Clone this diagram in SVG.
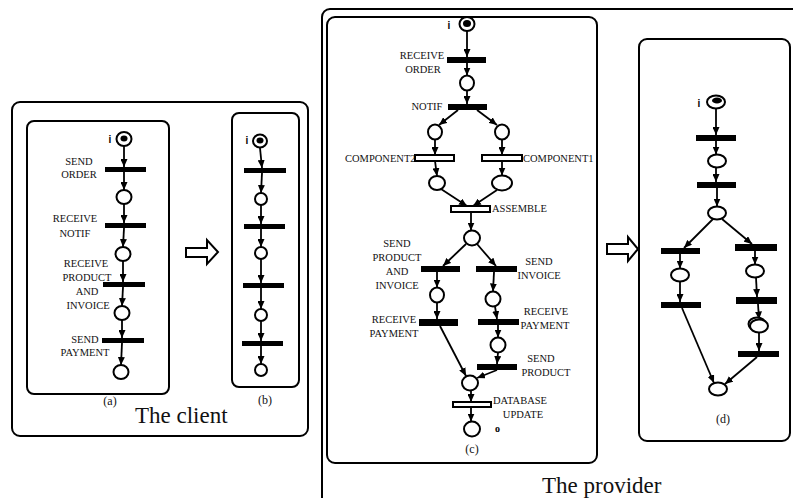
<svg xmlns="http://www.w3.org/2000/svg" width="793" height="498" viewBox="0 0 793 498">
<defs>
<marker id="ah" viewBox="0 0 8 7" refX="8" refY="3.5" markerWidth="8" markerHeight="7" markerUnits="userSpaceOnUse" orient="auto"><path d="M0,0 L8,3.5 L0,7 z" fill="#000"/></marker>
</defs>
<style>
.box{fill:none;stroke:#000;stroke-width:2}
.pl{fill:#fff;stroke:#000;stroke-width:2}
.tk{fill:#000}
.tr{fill:#000}
.th{fill:#fff;stroke:#000;stroke-width:2}
.e{fill:none;stroke:#000;stroke-width:1.8;marker-end:url(#ah)}
.big{fill:#fff;stroke:#000;stroke-width:2}
text{font-family:"Liberation Serif","Times New Roman",serif;fill:#111}
.lb{font-size:10.5px;text-anchor:middle}
.ls{font-size:10.5px}
.cap{font-size:12px;text-anchor:middle}
.ttl{font-size:23px}
.ii{font-family:"Liberation Sans",Arial,sans-serif;font-size:10px;font-weight:bold;text-anchor:middle;fill:#000}
.oo{font-size:10px;font-weight:bold;fill:#000}
</style>

<g id="frames">
<rect class="box" x="12" y="102" width="296" height="334" rx="8"/>
<rect class="box" x="27" y="121" width="142" height="273" rx="7"/>
<rect class="box" x="232" y="113" width="67" height="274" rx="7"/>
<rect class="box" x="322" y="9" width="500" height="520" rx="8"/>
<rect class="box" x="327" y="17" width="270" height="446" rx="8"/>
<rect class="box" x="639" y="39" width="151" height="402" rx="8"/>
<path class="big" d="M186,248 L207,248 L207,240 L218,252 L207,264 L207,257 L186,257 Z"/>
<path class="big" d="M607,244 L628,244 L628,237 L638,249 L628,261 L628,254 L607,254 Z"/>
<text class="ttl" x="135" y="423">The client</text>
<text class="ttl" x="542" y="493">The provider</text>
<text class="cap" x="110" y="405">(a)</text>
<text class="cap" x="265" y="404">(b)</text>
<text class="cap" x="472" y="453">(c)</text>
<text class="cap" x="723" y="423">(d)</text>
</g>

<g id="connectors">
<path class="e" d="M124,146 L124,167"/>
<path class="e" d="M124,172 L124,190"/>
<path class="e" d="M124,204 L124,223"/>
<path class="e" d="M124,228 L123,247"/>
<path class="e" d="M123,261 L123,282"/>
<path class="e" d="M123,287 L122,306"/>
<path class="e" d="M122,320 L122,338"/>
<path class="e" d="M122,343 L121,365"/>
<path class="e" d="M260,148 L262,168"/>
<path class="e" d="M262,173 L261,193"/>
<path class="e" d="M261,205 L261,224"/>
<path class="e" d="M261,229 L261,247"/>
<path class="e" d="M261,259 L261,283"/>
<path class="e" d="M261,288 L261,309"/>
<path class="e" d="M261,321 L261,341"/>
<path class="e" d="M261,346 L261,364"/>
<path class="e" d="M467,31 L467,57"/>
<path class="e" d="M467,63 L467,75.5"/>
<path class="e" d="M467,90.5 L467,104"/>
<path class="e" d="M458,110 L439,125"/>
<path class="e" d="M477,110 L497,125"/>
<path class="e" d="M435,139.5 L435,155"/>
<path class="e" d="M502,139.5 L502,155"/>
<path class="e" d="M435,161 L437,176"/>
<path class="e" d="M502,161 L502,175.5"/>
<path class="e" d="M441,189 L467,206"/>
<path class="e" d="M497,190 L473,206"/>
<path class="e" d="M471,212 L471,230.5"/>
<path class="e" d="M466,244 L443,266"/>
<path class="e" d="M477,244 L496,266"/>
<path class="e" d="M437,272 L437,287.5"/>
<path class="e" d="M494,272 L493,291.5"/>
<path class="e" d="M437,302.5 L437,319"/>
<path class="e" d="M495,306.5 L497,319"/>
<path class="e" d="M498,325 L498,337.5"/>
<path class="e" d="M498,352.5 L497,364"/>
<path class="e" d="M440,326 L466,376"/>
<path class="e" d="M497,370 L477,378"/>
<path class="e" d="M471,390.5 L471,402"/>
<path class="e" d="M471,407 L471,421.5"/>
<path class="e" d="M716,108.5 L716,135"/>
<path class="e" d="M716,141 L716,154.5"/>
<path class="e" d="M716,167.5 L716,182"/>
<path class="e" d="M717,188 L717,206.5"/>
<path class="e" d="M713,219 L684,248"/>
<path class="e" d="M722,219 L752,244"/>
<path class="e" d="M680,254 L680,268.5"/>
<path class="e" d="M755,251 L755,264.5"/>
<path class="e" d="M680,281.5 L680,302"/>
<path class="e" d="M756,277.5 L757,297"/>
<path class="e" d="M758,304 L759,319.5"/>
<path class="e" d="M759,332.5 L759,351"/>
<path class="e" d="M682,308 L714,383"/>
<path class="e" d="M757,357 L725,384"/>
</g>

<g id="a-i"><ellipse class="pl" cx="124" cy="139" rx="7.5" ry="7"/><ellipse class="tk" cx="124" cy="138.5" rx="3.5" ry="3"/><text class="ii" x="110" y="143">i</text></g>
<g id="a-send-order"><rect class="tr" x="105" y="167" width="41" height="5"/><text class="lb" x="79" y="165">SEND</text><text class="lb" x="79" y="178">ORDER</text></g>
<g id="a-p1"><ellipse class="pl" cx="124" cy="197" rx="7.5" ry="7"/></g>
<g id="a-receive-notif"><rect class="tr" x="105" y="223" width="41" height="5"/><text class="lb" x="75" y="222">RECEIVE</text><text class="lb" x="75" y="237">NOTIF</text></g>
<g id="a-p2"><ellipse class="pl" cx="123" cy="254" rx="7.5" ry="7"/></g>
<g id="a-receive-product"><rect class="tr" x="103" y="282" width="42" height="5"/><text class="lb" x="86" y="267">RECEIVE</text><text class="lb" x="87" y="281">PRODUCT</text><text class="lb" x="87" y="295">AND</text><text class="lb" x="88" y="309">INVOICE</text></g>
<g id="a-p3"><ellipse class="pl" cx="122" cy="313" rx="7.5" ry="7"/></g>
<g id="a-send-payment"><rect class="tr" x="102" y="338" width="42" height="5"/><text class="lb" x="85" y="343">SEND</text><text class="lb" x="85" y="356">PAYMENT</text></g>
<g id="a-p4"><ellipse class="pl" cx="121" cy="372" rx="7.5" ry="7"/></g>

<g id="b-i"><ellipse class="pl" cx="260" cy="141" rx="7" ry="6.5"/><ellipse class="tk" cx="260" cy="140.5" rx="3.5" ry="3"/><text class="ii" x="247" y="144">i</text></g>
<g id="b-t1"><rect class="tr" x="244" y="168" width="42" height="5"/></g>
<g id="b-p1"><ellipse class="pl" cx="261" cy="199" rx="6" ry="6"/></g>
<g id="b-t2"><rect class="tr" x="244" y="224" width="41" height="5"/></g>
<g id="b-p2"><ellipse class="pl" cx="261" cy="253" rx="6" ry="6"/></g>
<g id="b-t3"><rect class="tr" x="243" y="283" width="41" height="5"/></g>
<g id="b-p3"><ellipse class="pl" cx="261" cy="315" rx="6" ry="6"/></g>
<g id="b-t4"><rect class="tr" x="242" y="341" width="41" height="5"/></g>
<g id="b-p4"><ellipse class="pl" cx="261" cy="370" rx="6" ry="6"/></g>

<g id="c-i"><ellipse class="pl" cx="467" cy="24" rx="7.5" ry="7"/><ellipse class="tk" cx="467" cy="23.5" rx="4" ry="3.5"/><text class="ii" x="449" y="29">i</text></g>
<g id="c-receive-order"><rect class="tr" x="447" y="57" width="39" height="6"/><text class="lb" x="422" y="59">RECEIVE</text><text class="lb" x="423" y="73">ORDER</text></g>
<g id="c-p1"><ellipse class="pl" cx="467" cy="83" rx="7" ry="7.5"/></g>
<g id="c-notif"><rect class="tr" x="448" y="104" width="39" height="6"/><text class="lb" x="427" y="110">NOTIF</text></g>
<g id="c-pl"><ellipse class="pl" cx="435" cy="132" rx="7" ry="7.5"/></g>
<g id="c-pr"><ellipse class="pl" cx="502" cy="132" rx="7" ry="7.5"/></g>
<g id="c-component2"><text class="ls" x="345" y="162">COMPONENT2</text><rect class="th" x="415" y="155" width="39" height="6"/></g>
<g id="c-component1"><rect class="th" x="482" y="155" width="40" height="6"/><text class="ls" x="523" y="162">COMPONENT1</text></g>
<g id="c-pl2"><ellipse class="pl" cx="437" cy="183" rx="8" ry="7"/></g>
<g id="c-pr2"><ellipse class="pl" cx="502" cy="183" rx="10" ry="7.5"/></g>
<g id="c-assemble"><rect class="th" x="451" y="206" width="39" height="6"/><text class="ls" x="492" y="212">ASSEMBLE</text></g>
<g id="c-p2"><ellipse class="pl" cx="472" cy="238" rx="8" ry="7.5"/></g>
<g id="c-send-product-invoice"><rect class="tr" x="421" y="266" width="39" height="6"/><text class="lb" x="397" y="247">SEND</text><text class="lb" x="397" y="261">PRODUCT</text><text class="lb" x="397" y="275">AND</text><text class="lb" x="397" y="289">INVOICE</text></g>
<g id="c-send-invoice"><rect class="tr" x="476" y="266" width="41" height="6"/><text class="lb" x="539" y="265">SEND</text><text class="lb" x="539" y="279">INVOICE</text></g>
<g id="c-pl3"><ellipse class="pl" cx="437" cy="295" rx="7" ry="7.5"/></g>
<g id="c-pr3"><ellipse class="pl" cx="493" cy="299" rx="7.5" ry="7.5"/></g>
<g id="c-receive-payment-l"><rect class="tr" x="419" y="319" width="39" height="7"/><text class="lb" x="394" y="323">RECEIVE</text><text class="lb" x="394" y="337">PAYMENT</text></g>
<g id="c-receive-payment-r"><rect class="tr" x="478" y="319" width="41" height="6"/><text class="lb" x="546" y="315">RECEIVE</text><text class="lb" x="545" y="329">PAYMENT</text></g>
<g id="c-pr4"><ellipse class="pl" cx="498" cy="345" rx="7.5" ry="7.5"/></g>
<g id="c-send-product"><rect class="tr" x="477" y="364" width="40" height="6"/><text class="lb" x="541" y="362">SEND</text><text class="lb" x="546" y="376">PRODUCT</text></g>
<g id="c-pm"><ellipse class="pl" cx="470" cy="383" rx="8" ry="7.5"/></g>
<g id="c-database-update"><rect class="th" x="453" y="402" width="38" height="5"/><text class="ls" x="493" y="404">DATABASE</text><text class="lb" x="523" y="418">UPDATE</text></g>
<g id="c-o"><ellipse class="pl" cx="472" cy="429" rx="8" ry="7.5"/><text class="oo" x="495" y="432">o</text></g>

<g id="d-i"><ellipse class="pl" cx="716" cy="102" rx="9" ry="6.5"/><ellipse class="tk" cx="717" cy="100.5" rx="5" ry="3"/><text class="ii" x="699" y="107">i</text></g>
<g id="d-t1"><rect class="tr" x="696" y="135" width="40" height="6"/></g>
<g id="d-p1"><ellipse class="pl" cx="717" cy="161" rx="9" ry="6.5"/></g>
<g id="d-t2"><rect class="tr" x="697" y="182" width="39" height="6"/></g>
<g id="d-p2"><ellipse class="pl" cx="717" cy="213" rx="9" ry="6.5"/></g>
<g id="d-tl"><rect class="tr" x="661" y="248" width="39" height="6"/></g>
<g id="d-tr"><rect class="tr" x="735" y="244" width="42" height="7"/></g>
<g id="d-pl"><ellipse class="pl" cx="680" cy="275" rx="9" ry="6.5"/></g>
<g id="d-pr"><ellipse class="pl" cx="755" cy="271" rx="9" ry="6.5"/></g>
<g id="d-tl2"><rect class="tr" x="661" y="302" width="40" height="6"/></g>
<g id="d-tr2"><rect class="tr" x="736" y="297" width="41" height="7"/></g>
<g id="d-pr2"><ellipse class="pl" cx="757" cy="324" rx="8.5" ry="6.5"/><ellipse class="pl" cx="759" cy="326" rx="9" ry="6.5"/></g>
<g id="d-tr3"><rect class="tr" x="738" y="351" width="41" height="6"/></g>
<g id="d-pm"><ellipse class="pl" cx="718" cy="389" rx="9" ry="6.5"/></g>
</svg>
